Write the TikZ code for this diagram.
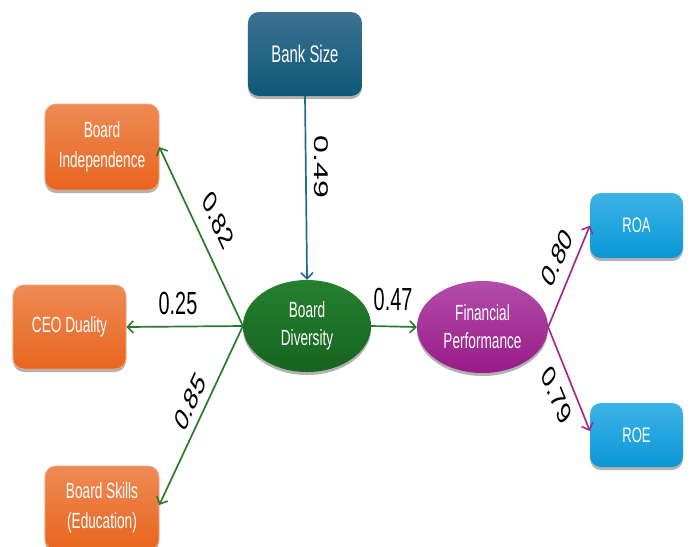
\documentclass[tikz,border=0pt]{standalone}
\usepackage{fontspec}
\setmainfont{Liberation Sans}
\usetikzlibrary{arrows.meta,shadows,shapes.geometric}
\definecolor{bsTop}{HTML}{3D7292}
\definecolor{bsBot}{HTML}{0E5878}
\definecolor{orTop}{HTML}{EE8A55}
\definecolor{orBot}{HTML}{E8651E}
\definecolor{orLine}{HTML}{F3A57A}
\definecolor{grTop}{HTML}{25802F}
\definecolor{grBot}{HTML}{176420}
\definecolor{puTop}{HTML}{B24DAA}
\definecolor{puBot}{HTML}{991A88}
\definecolor{blTop}{HTML}{3DB3E6}
\definecolor{blBot}{HTML}{0A97D7}
\definecolor{grArrow}{HTML}{2A7A2C}
\definecolor{teArrow}{HTML}{226B90}
\definecolor{puArrow}{HTML}{A02A90}
\begin{document}
\begin{tikzpicture}[x=1pt,y=-1pt,
  shad/.style={drop shadow={shadow xshift=0pt,shadow yshift=-3pt,opacity=.3,fill=black}},
  box/.style={rectangle,rounded corners=11pt,inner sep=0pt,align=center,text=white,shad},
  bankbox/.style={box,top color=bsTop,bottom color=bsBot,minimum width=183.9pt,minimum height=84pt,font=\fontsize{24}{28}\selectfont},
  orbox/.style={box,top color=orTop,bottom color=orBot,draw=orLine,line width=0.8pt,minimum width=183.9pt,minimum height=86pt,font=\fontsize{22}{30}\selectfont},
  blbox/.style={box,top color=blTop,bottom color=blBot,minimum width=150pt,minimum height=65pt,font=\fontsize{21}{26}\selectfont},
  ell/.style={ellipse,inner sep=0pt,align=center,text=white,shad,font=\fontsize{22}{28}\selectfont},
  num/.style={inner sep=0pt,font=\fontsize{32}{36}\selectfont,text=black},
  tip/.style={-{Straight Barb[length=6pt,width=12pt,line width=1.6pt]},line width=1.7pt},
  garrow/.style={tip,draw=grArrow},
  tarrow/.style={tip,draw=teArrow},
  parrow/.style={tip,draw=puArrow}]
\begin{scope}[xscale=0.62, transform shape]
\useasboundingbox (0,0) rectangle (1114.5,546);
% nodes
\node[bankbox] (BS) at (491.9,54) {Bank Size};
\node[orbox] (BI) at (164.5,147) {Board\\Independence};
\node[orbox,minimum width=182.3pt,minimum height=84pt] (CEO) at (112.1,327) {CEO Duality};
\node[orbox,minimum height=84pt] (SK) at (164.5,508) {Board Skills\\(Education)};
\node[ell,top color=grTop,bottom color=grBot,minimum width=206.5pt,minimum height=92pt] (BD) at (495.2,326) {Board\\Diversity};
\node[ell,top color=puTop,bottom color=puBot,minimum width=211.3pt,minimum height=92pt] (FP) at (778.2,327) {Financial\\Performance};
\node[blbox] (ROA) at (1026.6,225.5) {ROA};
\node[blbox,minimum height=64pt] (ROE) at (1026.6,435) {ROE};
% connectors
\draw[tarrow] (BS.south) -- (BD.north);
\draw[garrow] (BD.west) -- (BI.east);
\draw[garrow] (BD.west) -- (CEO.east);
\draw[garrow] (BD.west) -- ([yshift=3pt]SK.east);
\draw[garrow] (BD.east) -- (FP.west);
\draw[parrow] (FP.east) -- (ROA.west);
\draw[parrow] (FP.east) -- ([yshift=4pt]ROE.west);
% labels
\begin{scope}[shift={(518.5,167)},rotate=-90]
  \node[num] (l49) at (0,0) {0.49};
\end{scope}
\begin{scope}[shift={(351.6,220)},rotate=-53.4]
  \node[num] (l82) at (0,0) {0.82};
\end{scope}
\node[num] (l25) at (287.1,303) {0.25};
\begin{scope}[shift={(306.5,402)},rotate=53.6]
  \node[num] (l85) at (0,0) {0.85};
\end{scope}
\node[num] (l47) at (633.9,299) {0.47};
\begin{scope}[shift={(898.4,258)},rotate=55.5]
  \node[num] (l80) at (0,0) {0.80};
\end{scope}
\begin{scope}[shift={(898.4,395)},rotate=-56]
  \node[num] (l79) at (0,0) {0.79};
\end{scope}
\end{scope}
\end{tikzpicture}
\end{document}
